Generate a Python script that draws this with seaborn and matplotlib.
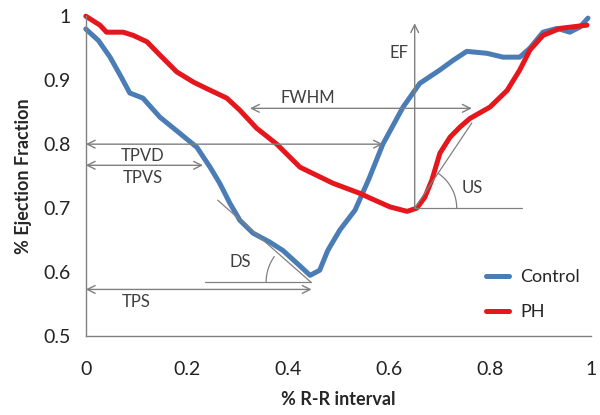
import numpy as np
import pandas as pd
import matplotlib
matplotlib.use("Agg")
import matplotlib.pyplot as plt
import seaborn as sns

# --- data ---
ctrl_x = [0.0, 0.025, 0.048, 0.07, 0.087, 0.113, 0.147, 0.186, 0.22, 0.246, 0.265,
          0.285, 0.305, 0.331, 0.364, 0.39, 0.418, 0.444, 0.463, 0.479, 0.503,
          0.533, 0.56, 0.588, 0.628, 0.661, 0.701, 0.727, 0.754, 0.794, 0.826,
          0.859, 0.879, 0.905, 0.933, 0.958, 0.978, 0.994]
ctrl_y = [0.98, 0.962, 0.936, 0.905, 0.88, 0.872, 0.842, 0.817, 0.795, 0.764, 0.739,
          0.708, 0.681, 0.661, 0.647, 0.634, 0.614, 0.595, 0.603, 0.634, 0.666,
          0.697, 0.745, 0.80, 0.858, 0.895, 0.916, 0.931, 0.945, 0.942, 0.936,
          0.936, 0.95, 0.975, 0.981, 0.975, 0.983, 0.997]
ph_x = [0.0, 0.028, 0.041, 0.074, 0.094, 0.121, 0.147, 0.18, 0.213, 0.239, 0.279,
        0.305, 0.338, 0.378, 0.424, 0.489, 0.543, 0.562, 0.602, 0.636, 0.655,
        0.671, 0.685, 0.701, 0.721, 0.741, 0.760, 0.80, 0.834, 0.859, 0.879,
        0.905, 0.939, 0.992]
ph_y = [1.0, 0.986, 0.975, 0.975, 0.97, 0.96, 0.939, 0.913, 0.897, 0.887, 0.872,
        0.853, 0.825, 0.80, 0.764, 0.739, 0.723, 0.716, 0.702, 0.695, 0.70,
        0.717, 0.744, 0.786, 0.811, 0.827, 0.840, 0.858, 0.884, 0.916, 0.947,
        0.970, 0.981, 0.986]

x_ticks = [0, 0.2, 0.4, 0.6, 0.8, 1]
x_tick_labels = ["0", "0.2", "0.4", "0.6", "0.8", "1"]
y_ticks = [0.5, 0.6, 0.7, 0.8, 0.9, 1.0]
y_tick_labels = ["0.5", "0.6", "0.7", "0.8", "0.9", "1"]

df = pd.concat([
    pd.DataFrame({"rr": ctrl_x, "ef": ctrl_y, "group": "Control"}),
    pd.DataFrame({"rr": ph_x, "ef": ph_y, "group": "PH"}),
])

sns.set_style("white")
plt.rcParams["font.family"] = ["Lato", "DejaVu Sans"]
GREY = "#808080"

fig = plt.figure(figsize=(6, 4.15), dpi=100)
ax = fig.add_axes([0.143, 0.19, 0.842, 0.771])

sns.lineplot(data=df, x="rr", y="ef", hue="group", sort=False,
             palette={"Control": "#4A7DB6", "PH": "#E5161C"},
             linewidth=3.6, ax=ax, legend=True)
for ln in ax.lines:
    ln.set_clip_on(False)
    ln.set_solid_joinstyle("round")
    ln.set_solid_capstyle("round")

ax.set_xlim(0, 1)
ax.set_ylim(0.5, 1.0)
ax.set_xticks(x_ticks)
ax.set_xticklabels(x_tick_labels)
ax.set_yticks(y_ticks)
ax.set_yticklabels(y_tick_labels)
ax.tick_params(axis="both", labelsize=14, colors="#222222", length=5, width=1,
               direction="out", color=GREY)
ax.tick_params(axis="x", pad=13)
ax.tick_params(axis="y", pad=6)
for side in ["top", "right"]:
    ax.spines[side].set_visible(False)
for side in ["left", "bottom"]:
    ax.spines[side].set_color(GREY)
    ax.spines[side].set_linewidth(1)

ax.set_xlabel("% R-R interval", fontsize=13, fontweight="bold", labelpad=9)
ax.set_ylabel("% Ejection Fraction", fontsize=13, fontweight="bold", labelpad=8)

leg = ax.legend(loc="lower right", bbox_to_anchor=(1.01, 0.0), frameon=False,
                fontsize=13, handlelength=1.3, handletextpad=0.6,
                labelspacing=1.05, title=None)

# --- annotations ---
def arrow(x0, y0, x1, y1, style="<->"):
    ax.annotate("", xy=(x1, y1), xytext=(x0, y0),
                arrowprops=dict(arrowstyle=style, color=GREY, lw=1,
                                shrinkA=0, shrinkB=0, mutation_scale=14))

tk = dict(fontsize=12, color="#404040", ha="center", va="center")

arrow(0.325, 0.856, 0.764, 0.856)
ax.text(0.44, 0.872, "FWHM", **tk)
arrow(0.0, 0.80, 0.588, 0.80)
ax.text(0.113, 0.781, "TPVD", **tk)
arrow(0.0, 0.767, 0.232, 0.767)
ax.text(0.113, 0.747, "TPVS", **tk)
arrow(0.0, 0.573, 0.447, 0.573)
ax.text(0.10, 0.553, "TPS", **tk)
arrow(0.651, 0.70, 0.651, 0.989, style="->")
ax.text(0.62, 0.942, "EF", **tk)

# US slope
ax.plot([0.651, 0.863], [0.70, 0.70], color=GREY, lw=0.9)
ax.plot([0.651, 0.764], [0.70, 0.833], color=GREY, lw=0.9)
ax.text(0.764, 0.731, "US", **tk)
# DS slope
ax.plot([0.236, 0.446], [0.584, 0.584], color=GREY, lw=0.9)
ax.plot([0.261, 0.446], [0.7125, 0.584], color=GREY, lw=0.9)
ax.text(0.305, 0.616, "DS", **tk)

# angle arcs (radius in pixels converted to data units)
def arc(cx, cy, r, a0, a1):
    t = np.radians(np.linspace(a0, a1, 40))
    ax.plot(cx + r / 505 * np.cos(t), cy + r / 640 * np.sin(t), color=GREY, lw=0.9)

arc(0.651, 0.70, 42, 0, 56)
arc(0.446, 0.584, 45, 145, 180)

fig.savefig("out.png", dpi=100)
